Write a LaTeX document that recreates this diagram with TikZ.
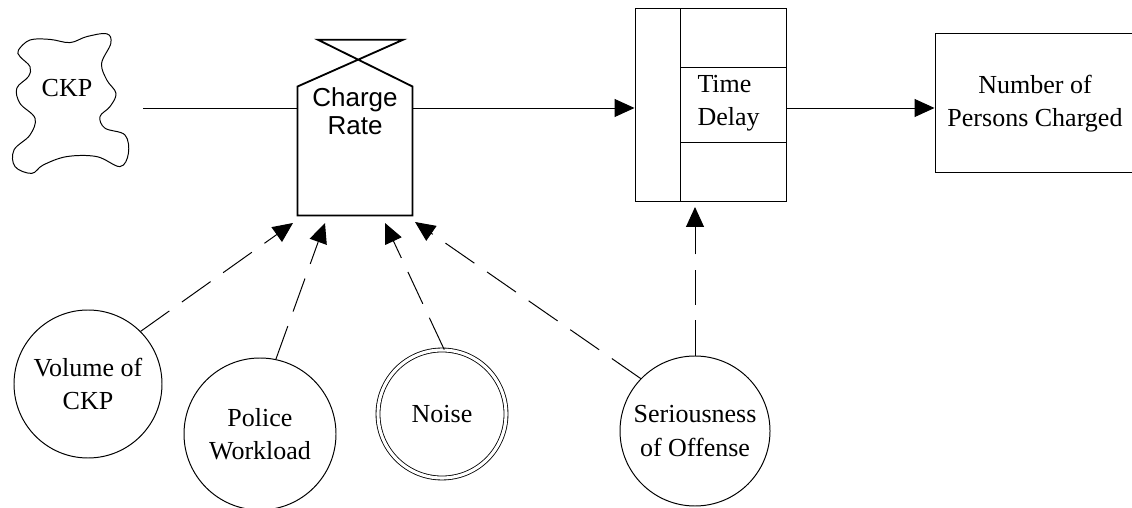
\documentclass[tikz,border=0pt]{standalone}
\usepackage{fontspec}
\setmainfont{Liberation Serif}
\newfontfamily\arialfont{Liberation Sans}
\usetikzlibrary{arrows.meta}

\begin{document}
\begin{tikzpicture}[
  font=\fontsize{18.5}{23.5}\selectfont,
  line width=0.7pt,
  flow/.style={-{Triangle[length=0.5cm,width=0.45cm]}},
  cue/.style={flow,dash pattern=on 25pt off 11pt},
  factor/.style={circle,draw,align=center,inner sep=0pt}]
\useasboundingbox (0,0) rectangle (28.3,12.675);
% source cloud
\draw[line width=0.7pt] plot[smooth cycle,tension=0.6] coordinates {(0.46,11.42) (0.75,11.675) (1.25,11.69) (1.75,11.61) (2.17,11.76) (2.67,11.83) (2.77,11.59) (2.54,11.09) (2.67,10.675) (2.9,10.34) (2.75,10.01) (2.5,9.76) (2.625,9.47) (3.125,9.3) (3.21,8.84) (3.0,8.51) (2.42,8.76) (1.67,8.76) (1.08,8.55) (0.79,8.34) (0.375,8.51) (0.35,8.925) (0.75,9.3) (0.875,9.72) (0.5,10.09) (0.42,10.47) (0.71,10.76) (0.75,11.01) (0.5,11.26)};
\node (ckp) at (1.675,10.475) {CKP};
\coordinate (src) at (3.575,9.975);
% rate valve
\node[minimum width=2.85cm,minimum height=3.2cm,inner sep=0pt] (rate) at (8.875,8.9) {};
\draw[line width=1.3pt] (rate.south west) -- (rate.north west) -- (10.075,11.68) -- (7.95,11.68) -- (rate.north east) -- (rate.south east) -- cycle;
\node[font=\arialfont\fontsize{18.5}{20}\selectfont,align=center] (ratelbl) at (8.875,9.9) {Charge\\Rate};
% delay box
\node[draw,minimum width=3.775cm,minimum height=4.8cm,inner sep=0pt] (delay) at (17.7625,10.05) {};
\draw ([xshift=1.15cm]delay.north west) -- ([xshift=1.15cm]delay.south west);
\draw ([xshift=1.15cm,yshift=-1.475cm]delay.north west) -- ([yshift=-1.475cm]delay.north east);
\draw ([xshift=1.15cm,yshift=1.475cm]delay.south west) -- ([yshift=1.475cm]delay.south east);
\node[anchor=west,align=left,inner sep=0pt] (delaylbl) at (17.425,10.09) {Time\\Delay};
% level
\node[draw,minimum width=5cm,minimum height=3.475cm,align=center] (count) at (25.875,10.09) {Number of\\Persons Charged};
% factors
\node[factor,minimum size=3.7cm] (vol) at (2.2,3.075) {Volume of\\CKP};
\node[factor,minimum size=3.8cm] (pol) at (6.5,1.825) {Police\\Workload};
\node[factor,double,double distance=2.2pt,line width=0.6pt,minimum size=3.2cm] (noise) at (11.05,2.325) {Noise};
\node[factor,minimum size=3.75cm] (ser) at (17.375,1.9) {Seriousness\\of Offense};
% arrow ends
\coordinate (in1) at (7.325,7.1);
\coordinate (in2) at (8.125,7.1);
\coordinate (in3) at (9.625,7.1);
\coordinate (in4) at (10.375,7.125);
\coordinate (in5) at (17.375,7.5);
% flows
\draw (src) -- (src -| rate.west);
\draw[flow] (rate.east |- src) -- (src -| delay.west);
\draw[flow] (delay.east |- src) -- (src -| count.west);
% influences
\draw[cue] (vol.45) -- (in1);
\draw[cue] (pol.78) -- (in2);
\draw[cue] (noise.88) -- (in3);
\draw[cue] (ser.136) -- (in4);
\draw[cue] (ser) -- (in5);
\end{tikzpicture}
\end{document}
